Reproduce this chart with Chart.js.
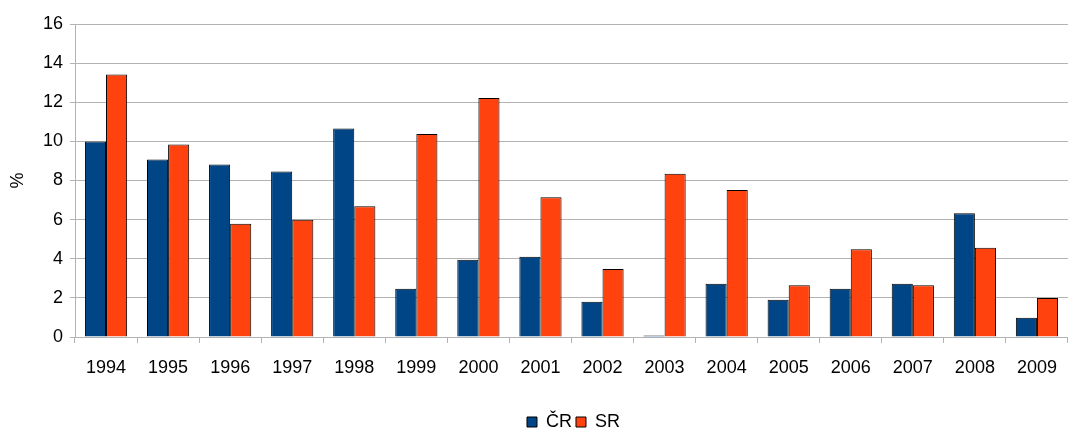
<!DOCTYPE html>
<html>
<head>
<meta charset="utf-8">
<script src="https://cdn.jsdelivr.net/npm/chart.js@4/dist/chart.umd.min.js"></script>
<style>
  html, body { margin: 0; padding: 0; background: #fff; }
  #wrap { width: 1071px; height: 430px; }
</style>
</head>
<body>
<div id="wrap"><canvas id="chart"></canvas></div>
<script>
// data
const years = ['1994', '1995', '1996', '1997', '1998', '1999', '2000', '2001',
  '2002', '2003', '2004', '2005', '2006', '2007', '2008', '2009'];
const cr = [10.0, 9.07, 8.82, 8.46, 10.66, 2.47, 3.95, 4.1, 1.8, 0.08, 2.72, 1.9, 2.47, 2.72, 6.33, 0.99];
const sr = [13.42, 9.84, 5.79, 6.0, 6.69, 10.38, 12.22, 7.15, 3.47, 8.34, 7.51, 2.64, 4.48, 2.64, 4.56, 2.0];
const yTicks = [0, 2, 4, 6, 8, 10, 12, 14, 16];

const font = { family: '"Liberation Sans", Arial, sans-serif', size: 18 };
const gridColor = '#b3b3b3';

// legend sits centred under the plot area, near the bottom edge
const legendUnderPlot = {
  id: 'legendUnderPlot',
  afterLayout(chart) {
    const lg = chart.legend;
    const w = lg.right - lg.left;
    const mid = (chart.chartArea.left + chart.chartArea.right) / 2 + 2;
    const dx = mid - (lg.left + w / 2);
    lg.left += dx;
    lg.right += dx;
    const dy = 409 - lg.top; // text centre near y=422
    lg.top += dy;
    lg.bottom += dy;
  }
};

new Chart(document.getElementById('chart'), {
  type: 'bar',
  data: {
    labels: years,
    datasets: [
      { label: 'ČR', data: cr, backgroundColor: '#004586', borderColor: '#000', borderWidth: 1 },
      { label: 'SR', data: sr, backgroundColor: '#ff420e', borderColor: '#000', borderWidth: 1 }
    ]
  },
  plugins: [legendUnderPlot],
  options: {
    responsive: true,
    maintainAspectRatio: false,
    animation: false,
    categoryPercentage: 0.68,
    barPercentage: 1.0,
    layout: { padding: { top: 24, right: 1, left: 0, bottom: 0 } },
    plugins: {
      tooltip: { enabled: false },
      legend: {
        position: 'bottom',
        labels: {
          color: '#000', font: font, boxWidth: 10, boxHeight: 10,
          padding: 4
        }
      }
    },
    scales: {
      x: {
        offset: true,
        grid: { offset: true, drawOnChartArea: false, drawTicks: true, tickLength: 6, color: gridColor },
        border: { color: gridColor },
        ticks: { color: '#000', font: font, padding: 14, maxRotation: 0 },
        afterFit: (s) => { s.height = 61; }
      },
      y: {
        min: 0, max: 16,
        afterBuildTicks: (s) => { s.ticks = yTicks.map(v => ({ value: v })); },
        grid: { color: gridColor, tickLength: 5 },
        border: { color: gridColor },
        ticks: { color: '#000', font: font, padding: 7 },
        title: { display: true, text: '%', color: '#000', font: font, padding: { top: 7, bottom: 8 } },
        afterFit: (s) => { s.width = 75; }
      }
    }
  }
});
</script>
</body>
</html>
